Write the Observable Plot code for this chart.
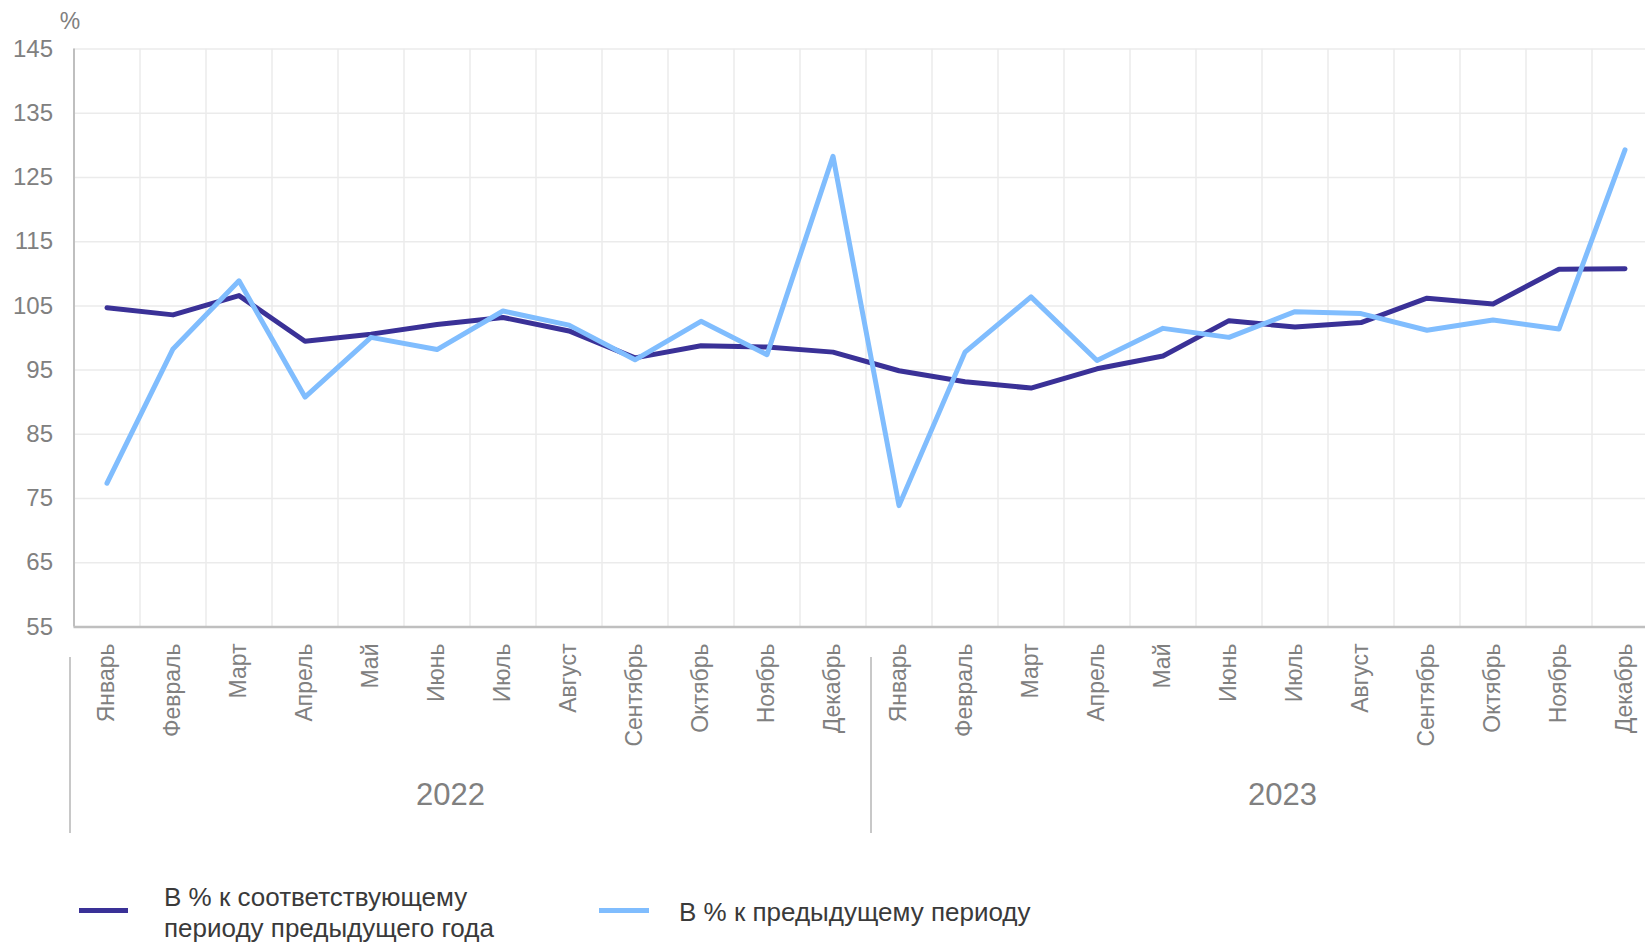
<!DOCTYPE html>
<html>
<head>
<meta charset="utf-8">
<script src="https://cdn.jsdelivr.net/npm/d3@7"></script>
<script src="https://cdn.jsdelivr.net/npm/@observablehq/plot@0.6"></script>
<style>
  html, body { margin: 0; padding: 0; background: #fff; overflow: hidden; }
  body { position: relative; width: 1645px; height: 942px; font-family: "Liberation Sans", Arial, sans-serif; }
  #chart svg { display: block; }
  .leg { position: absolute; color: #3a3a3a; font-size: 26px; line-height: 31px; }
  .sw { position: absolute; height: 5px; }
</style>
</head>
<body>
<div id="chart"></div>
<div class="sw" style="left:79px; top:908px; width:49px; background:#3a3197;"></div>
<div class="leg" style="left:164px; top:882px;">В % к соответствующему<br>периоду предыдущего года</div>
<div class="sw" style="left:599px; top:908px; width:50px; background:#80bdfe;"></div>
<div class="leg" style="left:679px; top:897px;">В % к предыдущему периоду</div>
<script>
const months = ["Январь","Февраль","Март","Апрель","Май","Июнь","Июль","Август","Сентябрь","Октябрь","Ноябрь","Декабрь"];
const years = ["2022", "2023"];
// В % к соответствующему периоду предыдущего года
const yoy = [104.7, 103.6, 106.6, 99.5, 100.6, 102.1, 103.2, 101.1, 96.9, 98.8, 98.6, 97.8,
             94.9, 93.2, 92.2, 95.2, 97.2, 102.7, 101.7, 102.4, 106.2, 105.3, 110.7, 110.8];
// В % к предыдущему периоду
const mom = [77.4, 98.3, 108.9, 90.8, 100.1, 98.2, 104.2, 102.0, 96.6, 102.6, 97.4, 128.3,
             73.9, 97.8, 106.4, 96.5, 101.5, 100.1, 104.1, 103.8, 101.2, 102.8, 101.4, 129.3];
const yTicks = [55, 65, 75, 85, 95, 105, 115, 125, 135, 145];

const rows = [];
years.forEach((yr, yi) => months.forEach((m, mi) => {
  const i = yi * months.length + mi;
  rows.push({i, month: m, year: yr, yoy: yoy[i], mom: mom[i]});
}));
const n = rows.length;
const boundaries = d3.range(n - 1).map(i => i + 0.5);
const yearStarts = years.map((y, yi) => yi * months.length - 0.5);
const yearCenters = years.map((y, yi) => ({year: y, x: yi * months.length + (months.length - 1) / 2}));

const H = 860, frameTop = 48.5, frameBottom = 626.5;
const grey = "#808080";
const sepLen = 176, sepInset = (frameBottom - frameTop) - sepLen;
const sepOpts = {stroke: "#c8c8c8", strokeWidth: 2, insetTop: sepInset, dy: 657 - frameTop - sepInset};

const plot = Plot.plot({
  width: 1645,
  height: H,
  marginLeft: 73.5,
  marginRight: 0,
  marginTop: frameTop,
  marginBottom: H - frameBottom,
  style: {fontFamily: "'Liberation Sans', Arial, sans-serif", background: "white"},
  x: {type: "linear", domain: [-0.5, n - 0.5], range: [73.5, 73.5 + 66 * n], axis: null},
  y: {domain: [55, 145], axis: null},
  marks: [
    Plot.ruleY(yTicks, {stroke: "#ebebeb", strokeWidth: 1.5}),
    Plot.ruleX(boundaries, {y1: 55, y2: 145, stroke: "#ebebeb", strokeWidth: 1.5}),
    Plot.ruleX([-0.5], {y1: 55, y2: 145, stroke: "#bfbfbf", strokeWidth: 2}),
    Plot.ruleY([55], {stroke: "#bfbfbf", strokeWidth: 2.5}),
    Plot.axisY({ticks: yTicks, tickSize: 0, tickPadding: 21, fontSize: 24, color: grey, label: null}),
    Plot.text(["%"], {frameAnchor: "top-left", dx: -4, dy: -27, fontSize: 23, fill: grey, textAnchor: "middle", lineAnchor: "middle"}),
    Plot.line(rows, {x: "i", y: "yoy", stroke: "#3a3197", strokeWidth: 5, strokeLinecap: "round", strokeLinejoin: "round"}),
    Plot.line(rows, {x: "i", y: "mom", stroke: "#80bdfe", strokeWidth: 5, strokeLinecap: "round", strokeLinejoin: "round"}),
    Plot.text(rows, {x: "i", text: "month", frameAnchor: "bottom", dy: 16.5, rotate: -90, textAnchor: "end", lineAnchor: "middle", fontSize: 23, fill: grey}),
    Plot.ruleX([yearStarts[0]], {...sepOpts, dx: -4}),
    Plot.ruleX([yearStarts[1]], {...sepOpts, dx: 5}),
    Plot.text([yearCenters[0]], {x: "x", text: "year", frameAnchor: "bottom", dy: 168.5, dx: -19.5, fontSize: 31, fill: grey, lineAnchor: "middle"}),
    Plot.text([yearCenters[1]], {x: "x", text: "year", frameAnchor: "bottom", dy: 168.5, dx: 20.5, fontSize: 31, fill: grey, lineAnchor: "middle"})
  ]
});
document.getElementById("chart").appendChild(plot);
</script>
</body>
</html>
